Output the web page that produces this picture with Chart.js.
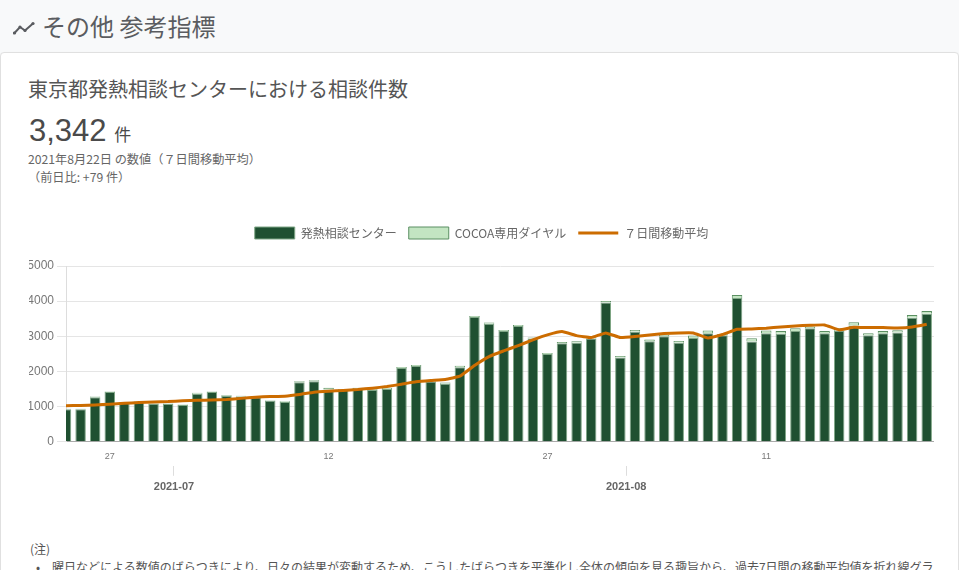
<!DOCTYPE html>
<html lang="ja">
<head>
<meta charset="utf-8">
<title>その他 参考指標</title>
<script src="https://cdn.jsdelivr.net/npm/chart.js@4"></script>
<style>
  html, body { margin: 0; height: 570px; overflow: hidden; background: #f8f9fa; }
  body { font-family: "Noto Sans CJK JP", "Noto Sans", sans-serif; color: #555; position: relative; }
  h1 { position: absolute; left: 42px; top: 9px; margin: 0; font-size: 24px; line-height: 34px; font-weight: 400; color: #5a5c60; }
  .icon { position: absolute; left: 13px; top: 21px; }
  .card { position: absolute; left: 0; top: 52px; width: 957px; height: 530px; background: #fff; border: 1px solid #e0e0e0; border-radius: 4px; box-shadow: 0 1px 2px rgba(0,0,0,.08); }
  .txt { position: absolute; white-space: nowrap; }
  #title { left: 28px; top: 75px; font-size: 20px; line-height: 28px; color: #555; }
  #big { left: 29px; top: 110px; font-size: 31px; line-height: 42px; font-family: "Liberation Sans", sans-serif; color: #4a4a4a; }
  #big span { font-size: 17px; font-family: "Noto Sans CJK JP", sans-serif; margin-left: -1px; }
  #sub { left: 28px; top: 150px; font-size: 12.2px; line-height: 18px; color: #666; }
  #note { left: 30px; top: 540px; width: 904px; font-size: 12px; line-height: 18px; color: #555; white-space: normal; }
  #note p { margin: 0; padding-left: 22px; position: relative; }
  #note p b { font-weight: 400; position: absolute; left: 6px; }
  #wrap { position: absolute; left: 29px; top: 215px; width: 905px; height: 284px; }
</style>
</head>
<body>
<svg class="icon" width="22" height="14" viewBox="0 0 22 14"><path d="M1.5 12 L7 6 L12 9.5 L20 2.5" fill="none" stroke="#5a5c60" stroke-width="2"/><circle cx="1.5" cy="12" r="1.6" fill="#5a5c60"/><circle cx="7" cy="6" r="1.6" fill="#5a5c60"/><circle cx="12" cy="9.5" r="1.6" fill="#5a5c60"/><circle cx="20" cy="2.5" r="1.6" fill="#5a5c60"/></svg>
<h1>その他 参考指標</h1>
<div class="card"></div>
<div class="txt" id="title">東京都発熱相談センターにおける相談件数</div>
<div class="txt" id="big">3,342 <span>件</span></div>
<div class="txt" id="sub">2021年8月22日 の数値（７日間移動平均）<br>（前日比: +79 件）</div>
<div id="wrap"><canvas id="consult-chart"></canvas></div>
<div class="txt" id="note">(注)<p><b>•</b>曜日などによる数値のばらつきにより、日々の結果が変動するため、こうしたばらつきを平準化し全体の傾向を見る趣旨から、過去7日間の移動平均値を折れ線グラフとして示している</p></div>

<script>
// 2021-06-24 .. 2021-08-22
const centerCalls = [
  925, 925, 1270, 1415, 1110, 1140, 1085, 1075, 1045, 1370,
  1415, 1300, 1285, 1270, 1165, 1135, 1695, 1725, 1490, 1480,
  1500, 1470, 1505, 2100, 2155, 1715, 1650, 2120, 3550, 3360,
  3150, 3295, 2935, 2500, 2800, 2820, 2940, 3965, 2400, 3130,
  2860, 3000, 2820, 2950, 3090, 3030, 4090, 2855, 3090, 3070,
  3150, 3230, 3090, 3160, 3310, 3030, 3090, 3110, 3525, 3640
];
const cocoaCalls = [
  12, 12, 18, 15, 17, 15, 13, 15, 15, 22,
  15, 25, 22, 18, 19, 20, 28, 25, 44, 25,
  34, 26, 29, 30, 32, 27, 35, 40, 30, 30,
  32, 29, 29, 28, 41, 40, 34, 41, 43, 52,
  47, 40, 50, 71, 73, 38, 86, 90, 73, 83,
  79, 47, 63, 69, 90, 57, 63, 62, 83, 82
];
const movingAvg = [
  1023, 1035, 1050, 1070, 1098, 1115, 1135, 1145, 1165, 1180,
  1190, 1200, 1235, 1270, 1285, 1297, 1345, 1411, 1440, 1460,
  1487, 1525, 1572, 1638, 1705, 1742, 1771, 1866, 2170, 2424,
  2585, 2737, 2898, 3040, 3134, 3020, 2964, 3097, 2964, 2993,
  3040, 3078, 3097, 3097, 2955, 3050, 3200, 3210, 3229, 3267,
  3296, 3315, 3324, 3182, 3258, 3248, 3248, 3239, 3267, 3342
];
const dayTicks = [3, 18, 33, 48];
const dayLabels = ['27', '12', '27', '11'];
const monthTicks = [7.4, 38.4];
const monthLabels = ['2021-07', '2021-08'];

const toPoints = (values) => values.map((v, i) => ({ x: i, y: v }));
const setTicks = (positions) => (scale) => { scale.ticks = positions.map((v) => ({ value: v })); };

// extra room under the legend
const legendGap = {
  id: 'legendGap',
  beforeInit(chart) {
    const fit = chart.legend.fit;
    chart.legend.fit = function () {
      fit.call(this);
      this.height += 17;
    };
  }
};

new Chart(document.getElementById('consult-chart'), {
  plugins: [legendGap],
  data: {
    datasets: [
      { type: 'line', label: '７日間移動平均', data: toPoints(movingAvg), borderColor: '#cc6c00', backgroundColor: '#cc6c00', borderWidth: 3, pointRadius: 0, tension: 0.1, order: 0 },
      { type: 'bar', label: '発熱相談センター', data: toPoints(centerCalls), backgroundColor: '#1f5031', borderColor: '#7fa686', borderWidth: 1, order: 1 },
      { type: 'bar', label: 'COCOA専用ダイヤル', data: toPoints(cocoaCalls), backgroundColor: '#c3e5c2', borderColor: '#5b8f62', borderWidth: 1, order: 2 }
    ]
  },
  options: {
    responsive: true,
    maintainAspectRatio: false,
    animation: false,
    layout: { padding: 0 },
    plugins: {
      tooltip: { enabled: false },
      legend: {
        position: 'top',
        labels: {
          usePointStyle: true,
          pointStyleWidth: 40,
          boxHeight: 12,
          padding: 12,
          color: '#666',
          font: { size: 12, family: '"Noto Sans CJK JP", sans-serif' },
          sort: (a, b) => (a.datasetIndex + 2) % 3 - (b.datasetIndex + 2) % 3,
          generateLabels: (chart) => {
            const items = Chart.defaults.plugins.legend.labels.generateLabels(chart);
            items.forEach((item) => { item.pointStyle = item.datasetIndex === 0 ? 'line' : 'rect'; });
            return items;
          }
        }
      }
    },
    scales: {
      x: {
        type: 'linear',
        stacked: true,
        offset: false,
        min: 0,
        max: 59.5,
        afterBuildTicks: setTicks(dayTicks),
        afterFit: (scale) => { scale.height = 24; },
        grid: { display: false, offset: false },
        border: { color: '#aaa' },
        ticks: {
          autoSkip: false, maxRotation: 0, padding: 1, color: '#777',
          font: { size: 9, family: '"Liberation Sans", sans-serif' },
          callback: (v) => dayLabels[dayTicks.indexOf(v)]
        }
      },
      month: {
        type: 'linear',
        position: 'bottom',
        offset: false,
        min: 0,
        max: 59.5,
        afterBuildTicks: setTicks(monthTicks),
        grid: { drawOnChartArea: false, tickLength: 10, color: '#ddd' },
        border: { display: false },
        ticks: {
          autoSkip: false, maxRotation: 0, padding: 5, color: '#666',
          font: { size: 11, weight: 'bold', family: '"Liberation Sans", sans-serif' },
          callback: (v) => monthLabels[monthTicks.indexOf(v)]
        }
      },
      y: {
        stacked: true,
        min: 0,
        max: 5000,
        afterFit: (scale) => { scale.width = 37; },
        grid: { color: '#e5e5e5', tickLength: 9 },
        border: { color: '#ddd' },
        ticks: { stepSize: 1000, padding: 3, color: '#777', font: { size: 12, family: '"Liberation Sans", sans-serif' }, callback: (v) => String(v) }
      }
    }
  }
});
</script>
</body>
</html>
